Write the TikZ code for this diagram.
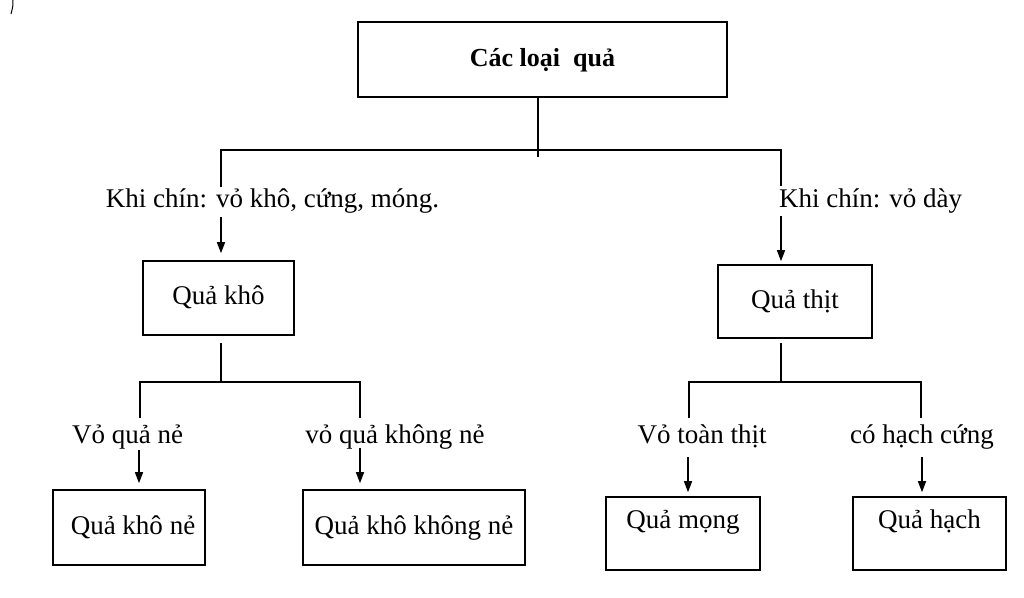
\documentclass[tikz,border=0pt]{standalone}
\usepackage{fontspec}
\setmainfont{Liberation Serif}
\usetikzlibrary{arrows.meta}
\begin{document}
\begin{tikzpicture}[x=1pt,y=-1pt,
  box/.style={draw, line width=1.6pt, inner sep=0pt, text height=19pt, text depth=6pt,
    font=\fontsize{27}{30}\selectfont},
  topbox/.style={box, text depth=30pt},
  lbl/.style={inner sep=0pt, text height=19pt, text depth=6pt, font=\fontsize{27}{30}\selectfont},
  ln/.style={line width=1.6pt},
  arr/.style={line width=1.4pt, -{Triangle[length=11pt,width=8pt]}}]
\useasboundingbox (0,0) rectangle (1024,597);

% stray mark
\draw[line width=1pt] (13,0) .. controls (13,6) .. (11,14);

% root
\node[box, minimum width=369pt, minimum height=75pt, font=\fontsize{26}{30}\selectfont\bfseries] (root) at (542.5,59.5) {Các loại\ \ quả};

% level 1 boxes
\node[box, minimum width=151pt, minimum height=74pt] (qk) at (218.5,298) {Quả khô};
\node[box, minimum width=154pt, minimum height=73pt] (qt) at (795,301.5) {Quả thịt};

% level 2 boxes
\node[box, minimum width=152pt, minimum height=75pt] (qkn) at (129,527.5) {\hspace*{8pt}Quả khô nẻ};
\node[box, minimum width=222pt, minimum height=75pt] (qkkn) at (414,527.5) {Quả khô không nẻ};
\node[topbox, minimum width=154pt, minimum height=73pt] (qm) at (683,533.5) {Quả mọng};
\node[topbox, minimum width=153pt, minimum height=73pt] (qh) at (929.5,533.5) {Quả hạch};

% labels
\node[lbl] (l1) at (272.5,201) {Khi chín: vỏ khô, cứng, móng.};
\node[lbl, anchor=west] (l2) at (779,201) {Khi chín: vỏ dày};
\node[lbl] (l3) at (127.5,437) {Vỏ quả nẻ};
\node[lbl] (l4) at (395,437) {vỏ quả không nẻ};
\node[lbl] (l5) at (702,437) {Vỏ toàn thịt};
\node[lbl] (l6) at (922,437) {có hạch cứng};

% root tree
\coordinate (t0) at (538,150);
\coordinate (tl) at (221,150);
\coordinate (tr) at (781,150);
\coordinate (tlb) at (221,187);
\coordinate (trb) at (781,186);
\draw[ln] (root.south -| t0) -- ([yshift=-7pt]t0);
\draw[ln] (tlb) -- (tl) -- (tr) -- (trb);
\coordinate (a1) at (221,217);
\coordinate (a2) at (781,216);
\draw[arr] (a1) -- ([yshift=7pt]qk.north -| a1);
\draw[arr] (a2) -- ([yshift=3pt]qt.north -| a2);

% quả khô subtree
\coordinate (k0) at (221,382);
\coordinate (kL) at (140,382);
\coordinate (kR) at (360,382);
\coordinate (kLb) at (140,418);
\coordinate (kRb) at (360,418);
\draw[ln] ([yshift=-7pt]qk.south -| k0) -- (k0);
\draw[ln] (kLb) -- (kL) -- (kR) -- (kRb);
\coordinate (a3) at (139,450);
\coordinate (a4) at (360,448);
\draw[arr] (a3) -- ([yshift=6pt]qkn.north -| a3);
\draw[arr] (a4) -- ([yshift=6pt]qkkn.north -| a4);

% quả thịt subtree
\coordinate (m0) at (781,382);
\coordinate (mL) at (689,382);
\coordinate (mR) at (921,382);
\coordinate (mLb) at (689,418);
\coordinate (mRb) at (921,418);
\draw[ln] ([yshift=-4pt]qt.south -| m0) -- (m0);
\draw[ln] (mLb) -- (mL) -- (mR) -- (mRb);
\coordinate (a5) at (688,457);
\coordinate (a6) at (922,457);
\draw[arr] (a5) -- ([yshift=4pt]qm.north -| a5);
\draw[arr] (a6) -- ([yshift=4pt]qh.north -| a6);
\end{tikzpicture}
\end{document}
